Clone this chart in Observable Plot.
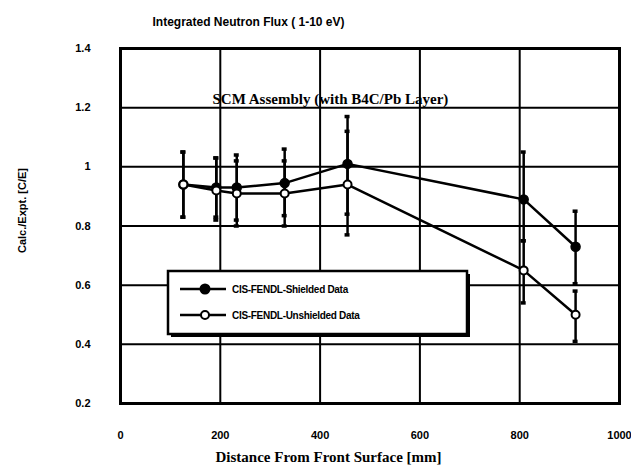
<!DOCTYPE html>
<html><head><meta charset="utf-8">
<script src="https://cdn.jsdelivr.net/npm/d3@7"></script>
<script src="https://cdn.jsdelivr.net/npm/@observablehq/plot@0.6"></script>
<style>body{margin:0;background:#fff;} #chart{width:631px;height:472px;}</style>
</head><body><div id="chart"></div>
<script>
const distance = [126, 192, 233, 329, 455, 808, 912];
const shielded = [0.94, 0.93, 0.93, 0.945, 1.01, 0.89, 0.73];
const shieldedLow = [0.83, 0.83, 0.82, 0.835, 0.84, 0.75, 0.605];
const shieldedHigh = [1.05, 1.03, 1.04, 1.06, 1.17, 1.05, 0.85];
const unshielded = [0.94, 0.92, 0.91, 0.91, 0.94, 0.65, 0.50];
const unshieldedLow = [0.83, 0.82, 0.80, 0.80, 0.77, 0.54, 0.41];
const unshieldedHigh = [1.05, 1.03, 1.02, 1.02, 1.12, 0.75, 0.58];
const xTicks = [0, 200, 400, 600, 800, 1000];
const yTicks = [0.2, 0.4, 0.6, 0.8, 1, 1.2, 1.4];
const seriesNames = ["CIS-FENDL-Shielded Data", "CIS-FENDL-Unshielded Data"];
const titleText = "Integrated Neutron Flux ( 1-10 eV)";
const subtitleText = "SCM Assembly (with B4C/Pb Layer)";
const xLabel = "Distance From Front Surface [mm]";
const yLabel = "Calc./Expt. [C/E]";

const rows = [];
distance.forEach((d, i) => {
  rows.push({series: seriesNames[0], distance: d, value: shielded[i], low: shieldedLow[i], high: shieldedHigh[i]});
});
distance.forEach((d, i) => {
  rows.push({series: seriesNames[1], distance: d, value: unshielded[i], low: unshieldedLow[i], high: unshieldedHigh[i]});
});
const sRows = rows.filter(r => r.series === seriesNames[0]);
const uRows = rows.filter(r => r.series === seriesNames[1]);

const sans = "'Liberation Sans', Arial, sans-serif";
const serif = "'Liberation Serif', 'Times New Roman', serif";

const plot = Plot.plot({
  width: 631,
  height: 472,
  marginLeft: 120,
  marginRight: 12,
  marginTop: 48,
  marginBottom: 69,
  style: {fontFamily: sans, fontWeight: "bold", fontSize: "11px", background: "#fff", color: "#000"},
  x: {domain: [0, 1000], label: null},
  y: {domain: [0.2, 1.4], label: null},
  marks: [
    Plot.gridX(xTicks, {stroke: "#000", strokeOpacity: 1, strokeWidth: 2}),
    Plot.gridY(yTicks, {stroke: "#000", strokeOpacity: 1, strokeWidth: 2}),
    Plot.frame({stroke: "#000", strokeWidth: 3}),
    Plot.ruleX(rows, {x: "distance", y1: "low", y2: "high", stroke: "#000", strokeWidth: 2.5}),
    Plot.ruleY(rows, {y: "low", x1: d => d.distance - 5, x2: d => d.distance + 5, stroke: "#000", strokeWidth: 3.5}),
    Plot.ruleY(rows, {y: "high", x1: d => d.distance - 5, x2: d => d.distance + 5, stroke: "#000", strokeWidth: 3.5}),
    Plot.line(rows, {x: "distance", y: "value", z: "series", stroke: "#000", strokeWidth: 2.5}),
    Plot.dot(sRows, {x: "distance", y: "value", r: 4.5, fill: "#000", stroke: "#000"}),
    Plot.dot(uRows, {x: "distance", y: "value", r: 4, fill: "#fff", stroke: "#000", strokeWidth: 2}),
    Plot.axisX(xTicks, {tickSize: 0, tickPadding: 28, label: null, tickFormat: d => String(d), fontSize: 11, fontWeight: "bold"}),
    Plot.axisY(yTicks, {tickSize: 0, tickPadding: 30, label: null, tickFormat: d => String(d), fontSize: 11, fontWeight: "bold"}),
    Plot.text([titleText], {frameAnchor: "top-left", textAnchor: "start", dx: 32, dy: -31, fontSize: 12, fontWeight: "bold", fontFamily: sans}),
    Plot.text([subtitleText], {frameAnchor: "top-left", textAnchor: "start", dx: 92, dy: 45, fontSize: 15, fontWeight: "bold", fontFamily: serif}),
    Plot.text([xLabel], {frameAnchor: "bottom-left", textAnchor: "start", dx: 95, dy: 58, fontSize: 15, fontWeight: "bold", fontFamily: serif}),
    Plot.text([yLabel], {frameAnchor: "left", dx: -98, dy: 27, rotate: -90, fontSize: 11, fontWeight: "bold", fontFamily: sans})
  ]
});
document.getElementById("chart").appendChild(plot);

// Legend box drawn inside the plot area
const svg = d3.select(plot);
const lx = 120 + 48, ly = 271, lw = 299, lh = 63;
const lg = svg.append("g");
lg.append("rect").attr("x", lx + 3).attr("y", ly + 3).attr("width", lw).attr("height", lh).attr("fill", "#000");
lg.append("rect").attr("x", lx).attr("y", ly).attr("width", lw).attr("height", lh).attr("fill", "#fff").attr("stroke", "#000").attr("stroke-width", 2.5);
seriesNames.forEach((name, i) => {
  const yy = ly + 18 + i * 26;
  lg.append("line").attr("x1", lx + 12).attr("x2", lx + 58).attr("y1", yy).attr("y2", yy).attr("stroke", "#000").attr("stroke-width", 2.5);
  lg.append("circle").attr("cx", lx + 37).attr("cy", yy).attr("r", i === 0 ? 4.5 : 4)
    .attr("fill", i === 0 ? "#000" : "#fff").attr("stroke", "#000").attr("stroke-width", 2);
  lg.append("text").attr("x", lx + 64).attr("y", yy).attr("dy", "0.35em").attr("text-anchor", "start")
    .attr("font-family", sans).attr("font-weight", "bold").attr("font-size", 10).attr("letter-spacing", -0.3).text(name);
});
</script>
</body></html>
